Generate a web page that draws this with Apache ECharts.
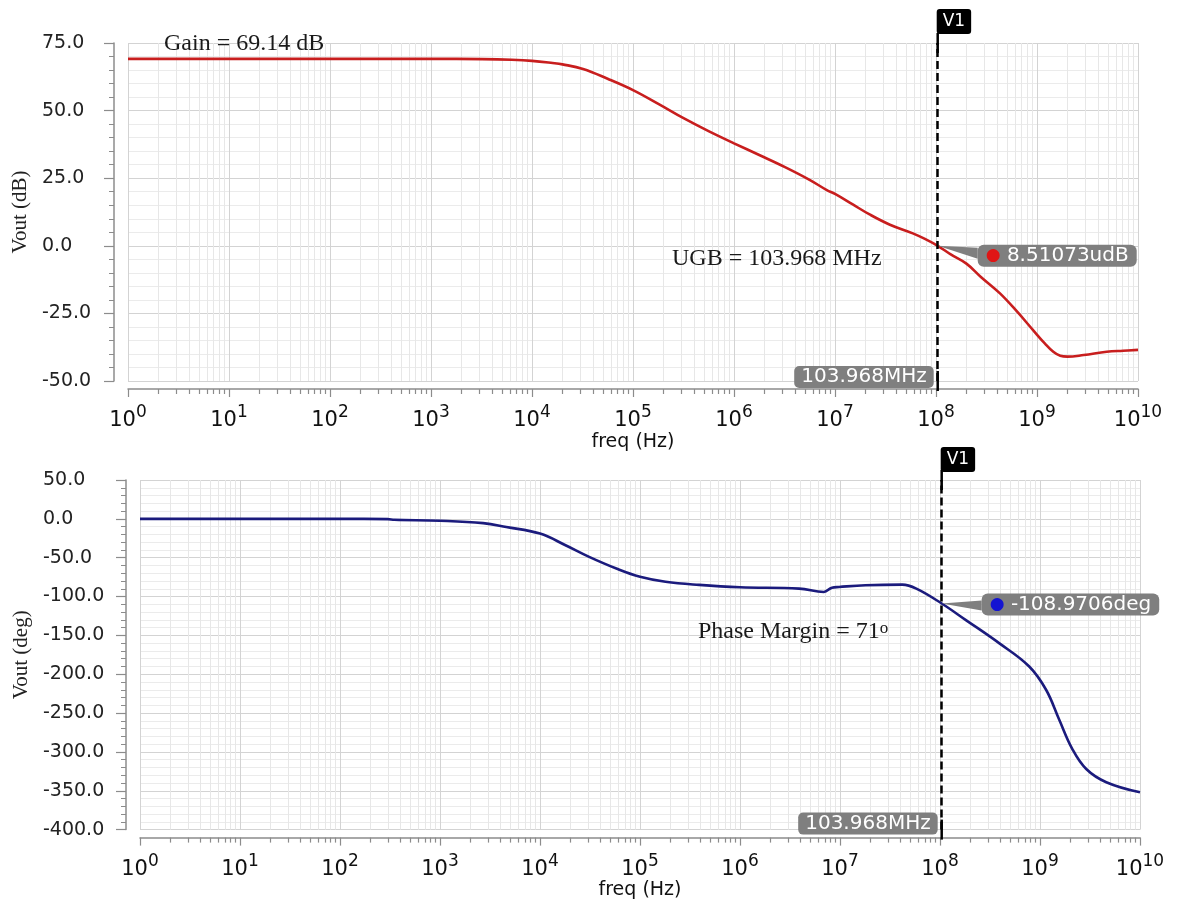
<!DOCTYPE html>
<html>
<head>
<meta charset="utf-8">
<title>AC response</title>
<script src="https://cdn.jsdelivr.net/npm/echarts@6/dist/echarts.min.js"></script>
<style>
  html, body { margin: 0; padding: 0; background: #fff; }
  #chart { width: 1180px; height: 901px; }
</style>
</head>
<body>
<div id="chart"></div>
<script>
// Open-loop AC response: magnitude (dB) and phase (deg) versus frequency.

// Magnitude curve
const GAIN_FREQ_HZ = [1, 1e2, 1e3, 3.2e3, 6.3e3, 1e4, 1.6e4, 2e4, 3.2e4, 5.6e4,
  1e5, 1.8e5, 3.2e5, 5.6e5, 1e6, 1.8e6, 3.2e6, 5.6e6, 8.3e6, 1e7,
  1.5e7, 2.2e7, 3.5e7, 5.9e7, 8e7, 103.968e6, 1.4e8, 2e8, 2.8e8, 4.3e8,
  6.3e8, 9.1e8, 1.2e9, 1.45e9, 1.7e9, 2e9, 2.9e9, 4.9e9, 7.1e9, 1e10];
const GAIN_DB = [69.14, 69.14, 69.14, 69.05, 68.8, 68.4, 67.6, 67.1, 65.4, 61.8,
  57.6, 52.4, 47.1, 42.4, 37.9, 33.5, 29.1, 24.4, 20.6, 19.2,
  15.3, 11.6, 7.8, 4.6, 2.3, 8.51073e-6, -3.2, -6.6, -11.6, -17.6,
  -24.2, -31.1, -36.2, -39.2, -40.7, -41.0, -40.4, -39.2, -38.8, -38.5];

// Phase curve
const PHASE_FREQ_HZ = [1, 1e2, 3e2, 3.5e2, 1e3, 2.7e3, 4.6e3, 1e4, 1.8e4, 3.1e4,
  5.8e4, 1e5, 1.8e5, 3.9e5, 1e6, 3.9e6, 6.9e6, 8.3e6, 9.8e6, 1.8e7,
  4.2e7, 5.8e7, 103.968e6, 1.8e8, 3.9e8, 7.8e8, 1.15e9, 1.55e9, 2.1e9, 2.9e9,
  4.6e9, 1e10];
const PHASE_DEG = [0, 0, -0.3, -1.2, -2.4, -5.5, -10.5, -19, -34, -49,
  -64, -74.6, -81, -85, -88, -89.8, -94.1, -88.6, -87.7, -85.5,
  -84.7, -89.8, -108.9706, -130, -160, -190, -220, -258, -296, -322,
  -339, -352];

// Cursor V1 at the unity-gain frequency
const UGB_HZ = 103.968e6;
const GAIN_AT_UGB_DB = 8.51073e-6;
const PHASE_AT_UGB_DEG = -108.9706;

// Axis ranges [min, max, step]
const GAIN_AXIS = [-50, 75, 25];
const PHASE_AXIS = [-400, 50, 50];

// Frequency ticks: decades and the 2..9 steps inside each decade
const DECADE_TICKS = [1, 1e1, 1e2, 1e3, 1e4, 1e5, 1e6, 1e7, 1e8, 1e9, 1e10];
const MINOR_STEPS = [2, 3, 4, 5, 6, 7, 8, 9];

const SANS = 'DejaVu Sans';
const SERIF = 'Liberation Serif';
const AXIS_GRAY = '#8c8c8c';
const X_AXIS_OFFSET = 8;

const freqGridData = DECADE_TICKS.map(f => [f, 1]);
DECADE_TICKS.slice(0, -1).forEach(d => MINOR_STEPS.forEach(m => freqGridData.push([m * d, 0])));

function zip(xs, ys) { return xs.map((x, i) => [x, ys[i]]); }

// Vertical grid lines and x ticks for the log frequency axis
function freqGridItem(params, api) {
  const major = api.value(1) === 1;
  const x = Math.round(api.coord([api.value(0), 0])[0]) + 0.5;
  const rect = params.coordSys;
  const top = rect.y;
  const bottom = rect.y + rect.height;
  const axisY = bottom + X_AXIS_OFFSET;
  return {
    type: 'group',
    children: [
      { type: 'line', shape: { x1: x, y1: top, x2: x, y2: bottom },
        style: { stroke: major ? '#d3d3d3' : '#e7e7e7', lineWidth: 1 } },
      { type: 'line', shape: { x1: x, y1: axisY, x2: x, y2: axisY + (major ? 8 : 5) },
        style: { stroke: AXIS_GRAY, lineWidth: 1.2 } }
    ]
  };
}

function freqAxis(gridIndex) {
  return {
    type: 'log', logBase: 10, gridIndex, min: 1, max: 1e10,
    offset: X_AXIS_OFFSET,
    axisLine: { show: true, onZero: false, lineStyle: { color: AXIS_GRAY, width: 1.5 } },
    axisTick: { show: false },
    splitLine: { show: false },
    axisLabel: {
      customValues: DECADE_TICKS,
      margin: 15,
      formatter: v => '{b|10}{s|' + Math.round(Math.log10(v)) + '}',
      rich: {
        b: { fontFamily: SANS, fontSize: 21, lineHeight: 34, color: '#111' },
        s: { fontFamily: SANS, fontSize: 17, lineHeight: 17, verticalAlign: 'top', color: '#111' }
      }
    },
    name: 'freq (Hz)', nameLocation: 'middle', nameGap: 38,
    nameTextStyle: { fontFamily: SANS, fontSize: 19, color: '#111' }
  };
}

function levelAxis(gridIndex, range, name, nameGap, labelMargin) {
  return {
    type: 'value', gridIndex, min: range[0], max: range[1], interval: range[2],
    offset: 14,
    axisLine: { show: true, onZero: false, lineStyle: { color: AXIS_GRAY, width: 1.5 } },
    axisTick: { show: true, length: 10, lineStyle: { color: AXIS_GRAY, width: 1.2 } },
    minorTick: { show: true, splitNumber: 5, length: 5, lineStyle: { color: AXIS_GRAY, width: 1 } },
    splitLine: { show: true, lineStyle: { color: '#d3d3d3', width: 1 } },
    minorSplitLine: { show: true, lineStyle: { color: '#ebebeb', width: 1 } },
    axisLabel: {
      formatter: v => v.toFixed(1), align: 'left', margin: labelMargin,
      fontFamily: SANS, fontSize: 19, color: '#222'
    },
    name, nameLocation: 'middle', nameGap,
    nameTextStyle: { fontFamily: SERIF, fontSize: 21, color: '#222' }
  };
}

function cursorLine() {
  return {
    silent: true, animation: false,
    symbol: ['rect', 'rect'], symbolSize: [2.5, 20],
    lineStyle: { color: '#000', width: 2.5, type: [8, 4] },
    label: { show: false },
    emphasis: { disabled: true },
    data: [{ xAxis: UGB_HZ }]
  };
}

function cursorMarks(yTop, yBottom, yValue, valueText, dotColor, wedge, v1Pos, freqPos, boxPos) {
  const boxLabel = {
    color: '#fff', backgroundColor: '#7f7f7f', fontFamily: SANS,
    fontSize: 20, lineHeight: 20, padding: [1, 7], borderRadius: 5
  };
  return {
    silent: true, animation: false,
    data: [
      { coord: [UGB_HZ, yTop], symbol: 'circle', symbolSize: 0,
        label: { show: true, formatter: 'V1', position: v1Pos, color: '#fff', backgroundColor: '#000',
          fontFamily: SANS, fontSize: 17, lineHeight: 21, padding: [2, 6], borderRadius: 3 } },
      { coord: [UGB_HZ, yBottom], symbol: 'circle', symbolSize: 0,
        label: Object.assign({ show: true, formatter: (UGB_HZ / 1e6).toFixed(3) + 'MHz',
          position: freqPos, align: 'right' }, boxLabel) },
      { coord: [UGB_HZ, yValue], symbol: wedge.path, symbolSize: wedge.size,
        symbolOffset: wedge.offset, symbolKeepAspect: false,
        itemStyle: { color: '#7f7f7f' }, label: { show: false } },
      { coord: [UGB_HZ, yValue], symbol: 'circle', symbolSize: 0,
        label: Object.assign({}, boxLabel, { show: true, position: boxPos,
          padding: [1, 8], borderRadius: 6,
          formatter: '{dot|●} ' + valueText,
          rich: { dot: { color: dotColor, fontSize: 17, lineHeight: 20, fontFamily: SANS } } }) }
    ]
  };
}

// In-plot notes, set as plain text blocks
function note(left, top, text, rich) {
  return {
    left, top, padding: 0, text,
    textStyle: { fontFamily: SERIF, fontSize: 24, fontWeight: 'normal', color: '#1a1a1a', rich }
  };
}

const phaseMargin = Math.round(180 + PHASE_AT_UGB_DEG);

const option = {
  animation: false,
  backgroundColor: '#fff',
  title: [
    note(164, 32, 'Gain = ' + GAIN_DB[0].toFixed(2) + ' dB'),
    note(672, 247, 'UGB = ' + (UGB_HZ / 1e6).toFixed(3) + ' MHz'),
    note(698, 620, 'Phase Margin = ' + phaseMargin + '{sup|o}', {
      sup: { fontFamily: SERIF, fontSize: 17, color: '#1a1a1a', verticalAlign: 'top', lineHeight: 14 }
    })
  ],
  grid: [
    { left: 128, top: 43, width: 1010, height: 338 },
    { left: 140, top: 480, width: 1000, height: 352 }
  ],
  xAxis: [freqAxis(0), freqAxis(1)],
  yAxis: [
    levelAxis(0, GAIN_AXIS, 'Vout (dB)', 81, 72),
    levelAxis(1, PHASE_AXIS, 'Vout (deg)', 87, 83)
  ],
  series: [
    { type: 'custom', xAxisIndex: 0, yAxisIndex: 0, z: 1, silent: true, clip: false,
      renderItem: freqGridItem, data: freqGridData },
    { type: 'custom', xAxisIndex: 1, yAxisIndex: 1, z: 1, silent: true, clip: false,
      renderItem: freqGridItem, data: freqGridData },
    {
      name: 'Vout (dB)', type: 'line', xAxisIndex: 0, yAxisIndex: 0, z: 3,
      data: zip(GAIN_FREQ_HZ, GAIN_DB),
      showSymbol: false, smooth: 0.4,
      lineStyle: { color: '#c81e1e', width: 2.6 }, itemStyle: { color: '#c81e1e' },
      markLine: cursorLine(),
      markPoint: cursorMarks(GAIN_AXIS[1], GAIN_AXIS[0], GAIN_AT_UGB_DB,
        (GAIN_AT_UGB_DB * 1e6).toFixed(5) + 'udB', '#e01515',
        { path: 'path://M0,0L40,2L40,13Z', size: [40, 13], offset: [20, 6.5] },
        [-1, -34], [-4, -15], [40, -1])
    },
    {
      name: 'Vout (deg)', type: 'line', xAxisIndex: 1, yAxisIndex: 1, z: 3,
      data: zip(PHASE_FREQ_HZ, PHASE_DEG),
      showSymbol: false, smooth: 0.4,
      lineStyle: { color: '#1b1b7d', width: 2.6 }, itemStyle: { color: '#1b1b7d' },
      markLine: cursorLine(),
      markPoint: cursorMarks(PHASE_AXIS[1], PHASE_AXIS[0], PHASE_AT_UGB_DEG,
        PHASE_AT_UGB_DEG.toFixed(4) + 'deg', '#1414d2',
        { path: 'path://M0,3L40,0L40,10Z', size: [40, 10], offset: [20, 2] },
        [-1, -33], [-4, -17], [40, -10])
    }
  ]
};

const chart = echarts.init(document.getElementById('chart'), null, { renderer: 'canvas' });
chart.setOption(option);
</script>
</body>
</html>
